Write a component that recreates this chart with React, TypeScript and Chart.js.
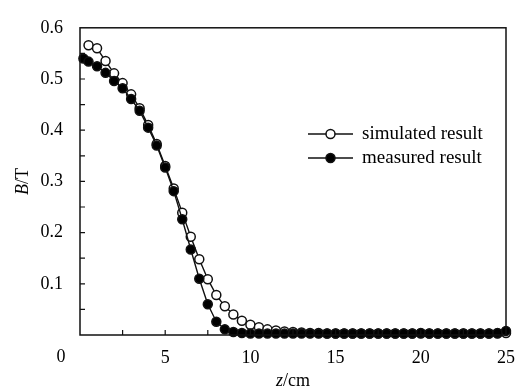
import React, { useEffect, useRef } from 'react';
import { Chart, registerables } from 'chart.js';

Chart.register(...registerables);

// ---- data ----
const simulatedZ = [
  0.5, 1, 1.5, 2, 2.5, 3, 3.5, 4, 4.5, 5, 5.5, 6, 6.5, 7, 7.5, 8, 8.5, 9, 9.5, 10,
  10.5, 11, 11.5, 12, 12.5, 13, 13.5, 14, 14.5, 15, 15.5, 16, 16.5, 17, 17.5, 18,
  18.5, 19, 19.5, 20, 20.5, 21, 21.5, 22, 22.5, 23, 23.5, 24, 24.5, 25,
];
const simulatedB = [
  0.566, 0.56, 0.535, 0.511, 0.492, 0.47, 0.443, 0.41, 0.373, 0.33, 0.286, 0.239,
  0.192, 0.148, 0.109, 0.078, 0.056, 0.04, 0.028, 0.02, 0.015, 0.011, 0.009, 0.007,
  0.006, 0.005, 0.004, 0.004, 0.003, 0.003, 0.003, 0.003, 0.003, 0.003, 0.003, 0.003,
  0.003, 0.003, 0.003, 0.003, 0.003, 0.003, 0.003, 0.003, 0.003, 0.003, 0.003, 0.003,
  0.003, 0.004,
];
const measuredZ = [
  0.2, 0.5, 1, 1.5, 2, 2.5, 3, 3.5, 4, 4.5, 5, 5.5, 6, 6.5, 7, 7.5, 8, 8.5, 9, 9.5,
  10, 10.5, 11, 11.5, 12, 12.5, 13, 13.5, 14, 14.5, 15, 15.5, 16, 16.5, 17, 17.5, 18,
  18.5, 19, 19.5, 20, 20.5, 21, 21.5, 22, 22.5, 23, 23.5, 24, 24.5, 25,
];
const measuredB = [
  0.54, 0.534, 0.525, 0.512, 0.496, 0.482, 0.461, 0.438, 0.405, 0.37, 0.327, 0.281,
  0.226, 0.167, 0.11, 0.06, 0.026, 0.011, 0.006, 0.004, 0.003, 0.003, 0.003, 0.003,
  0.003, 0.003, 0.003, 0.003, 0.003, 0.003, 0.003, 0.003, 0.003, 0.003, 0.003, 0.003,
  0.003, 0.003, 0.003, 0.003, 0.004, 0.003, 0.003, 0.003, 0.003, 0.003, 0.003, 0.003,
  0.003, 0.004, 0.008,
];
const seriesNames = ['simulated result', 'measured result'];
const xTickValues = [0, 5, 10, 15, 20, 25];
const yTickValues = [0, 0.1, 0.2, 0.3, 0.4, 0.5, 0.6];
const xMinorTicks = [2.5, 5, 7.5, 10, 12.5, 15, 17.5, 20, 22.5];
const yMinorTicks = [0.05, 0.1, 0.15, 0.2, 0.25, 0.3, 0.35, 0.4, 0.45, 0.5, 0.55];
const xTitle = ['z', '/cm'];
const yTitle = ['B', '/T'];
const originLabel = '0';

const FONT = '"Liberation Serif", "Times New Roman", serif';
const INK = '#111';

const decorPlugin = {
  id: 'decor',
  afterDraw(chart: any) {
    const { ctx, chartArea: a, scales } = chart;
    const x = scales.x;
    const y = scales.y;
    ctx.save();
    // frame
    ctx.strokeStyle = INK;
    ctx.lineWidth = 1.5;
    ctx.strokeRect(a.left, a.top, a.right - a.left, a.bottom - a.top);
    // inward ticks
    ctx.lineWidth = 1.2;
    ctx.beginPath();
    yMinorTicks.forEach((v) => {
      const py = y.getPixelForValue(v);
      ctx.moveTo(a.left, py);
      ctx.lineTo(a.left + 5, py);
    });
    xMinorTicks.forEach((v) => {
      const px = x.getPixelForValue(v);
      ctx.moveTo(px, a.bottom);
      ctx.lineTo(px, a.bottom - 5);
    });
    ctx.stroke();

    ctx.fillStyle = '#000';
    // origin label
    ctx.font = `18px ${FONT}`;
    ctx.textAlign = 'center';
    ctx.textBaseline = 'middle';
    ctx.fillText(originLabel, a.left - 19, a.bottom + 22);

    // x title
    ctx.font = `italic 18px ${FONT}`;
    const w1 = ctx.measureText(xTitle[0]).width;
    ctx.font = `18px ${FONT}`;
    const w2 = ctx.measureText(xTitle[1]).width;
    const cx = (a.left + a.right) / 2;
    const sx = cx - (w1 + w2) / 2;
    const ty = a.bottom + 46;
    ctx.textAlign = 'left';
    ctx.font = `italic 18px ${FONT}`;
    ctx.fillText(xTitle[0], sx, ty);
    ctx.font = `18px ${FONT}`;
    ctx.fillText(xTitle[1], sx + w1, ty);

    // y title (rotated)
    ctx.save();
    ctx.translate(23, (a.top + a.bottom) / 2);
    ctx.rotate(-Math.PI / 2);
    ctx.font = `italic 18px ${FONT}`;
    const v1 = ctx.measureText(yTitle[0]).width;
    ctx.font = `18px ${FONT}`;
    const v2 = ctx.measureText(yTitle[1]).width;
    const vx = -(v1 + v2) / 2;
    ctx.font = `italic 18px ${FONT}`;
    ctx.fillText(yTitle[0], vx, 0);
    ctx.font = `18px ${FONT}`;
    ctx.fillText(yTitle[1], vx + v1, 0);
    ctx.restore();

    // legend
    const lx0 = 308;
    const lx1 = 353;
    const rows = [134, 158];
    rows.forEach((ly, i) => {
      ctx.strokeStyle = INK;
      ctx.lineWidth = 1.5;
      ctx.beginPath();
      ctx.moveTo(lx0, ly);
      ctx.lineTo(lx1, ly);
      ctx.stroke();
      ctx.beginPath();
      ctx.arc((lx0 + lx1) / 2, ly, 4.5, 0, Math.PI * 2);
      ctx.fillStyle = i === 0 ? '#fff' : '#000';
      ctx.fill();
      ctx.stroke();
      ctx.fillStyle = '#000';
      ctx.font = `19px ${FONT}`;
      ctx.textAlign = 'left';
      ctx.textBaseline = 'middle';
      ctx.fillText(seriesNames[i], 362, ly);
    });
    ctx.restore();
  },
};

export default function App() {
  const ref = useRef<HTMLCanvasElement | null>(null);
  useEffect(() => {
    if (!ref.current) return;
    const chart = new Chart(ref.current, {
      type: 'line',
      data: {
        datasets: [
          {
            label: seriesNames[0],
            data: simulatedZ.map((z, i) => ({ x: z, y: simulatedB[i] })),
            borderColor: INK,
            borderWidth: 1.4,
            pointRadius: 4.5,
            pointBorderWidth: 1.5,
            pointBackgroundColor: '#fff',
            pointBorderColor: INK,
            order: 1,
            clip: 8,
          },
          {
            label: seriesNames[1],
            data: measuredZ.map((z, i) => ({ x: z, y: measuredB[i] })),
            borderColor: INK,
            borderWidth: 1.4,
            pointRadius: 4.5,
            pointBorderWidth: 1.5,
            pointBackgroundColor: '#000',
            pointBorderColor: INK,
            order: 0,
            clip: 8,
          },
        ],
      },
      options: {
        responsive: false,
        maintainAspectRatio: false,
        animation: false,
        devicePixelRatio: 1,
        layout: { padding: { top: 17, right: 14, left: 0, bottom: 0 } },
        plugins: { legend: { display: false }, tooltip: { enabled: false } },
        scales: {
          x: {
            type: 'linear',
            min: 0,
            max: 25,
            afterFit: (s: any) => {
              s.height = 55;
            },
            afterBuildTicks: (s: any) => {
              s.ticks = xTickValues.map((v) => ({ value: v }));
            },
            grid: { display: false, drawTicks: false },
            border: { display: false },
            ticks: {
              padding: 12,
              color: '#000',
              font: { family: FONT, size: 18 },
              callback: (v: any) => (v === 0 ? '' : String(v)),
            },
          },
          y: {
            type: 'linear',
            min: 0,
            max: 0.6,
            afterFit: (s: any) => {
              s.width = 80;
            },
            afterBuildTicks: (s: any) => {
              s.ticks = yTickValues.map((v) => ({ value: v }));
            },
            grid: { display: false, drawTicks: false },
            border: { display: false },
            ticks: {
              padding: 17,
              color: '#000',
              font: { family: FONT, size: 18 },
              callback: (v: any) => (v === 0 ? '' : Number(v).toFixed(1)),
            },
          },
        },
      },
      plugins: [decorPlugin],
    });
    return () => chart.destroy();
  }, []);
  return (
    <div style={{ position: 'fixed', left: 0, top: 0, width: 527, height: 390, background: '#fff' }}>
      <canvas ref={ref} width={527} height={390} style={{ display: 'block' }} />
    </div>
  );
}
